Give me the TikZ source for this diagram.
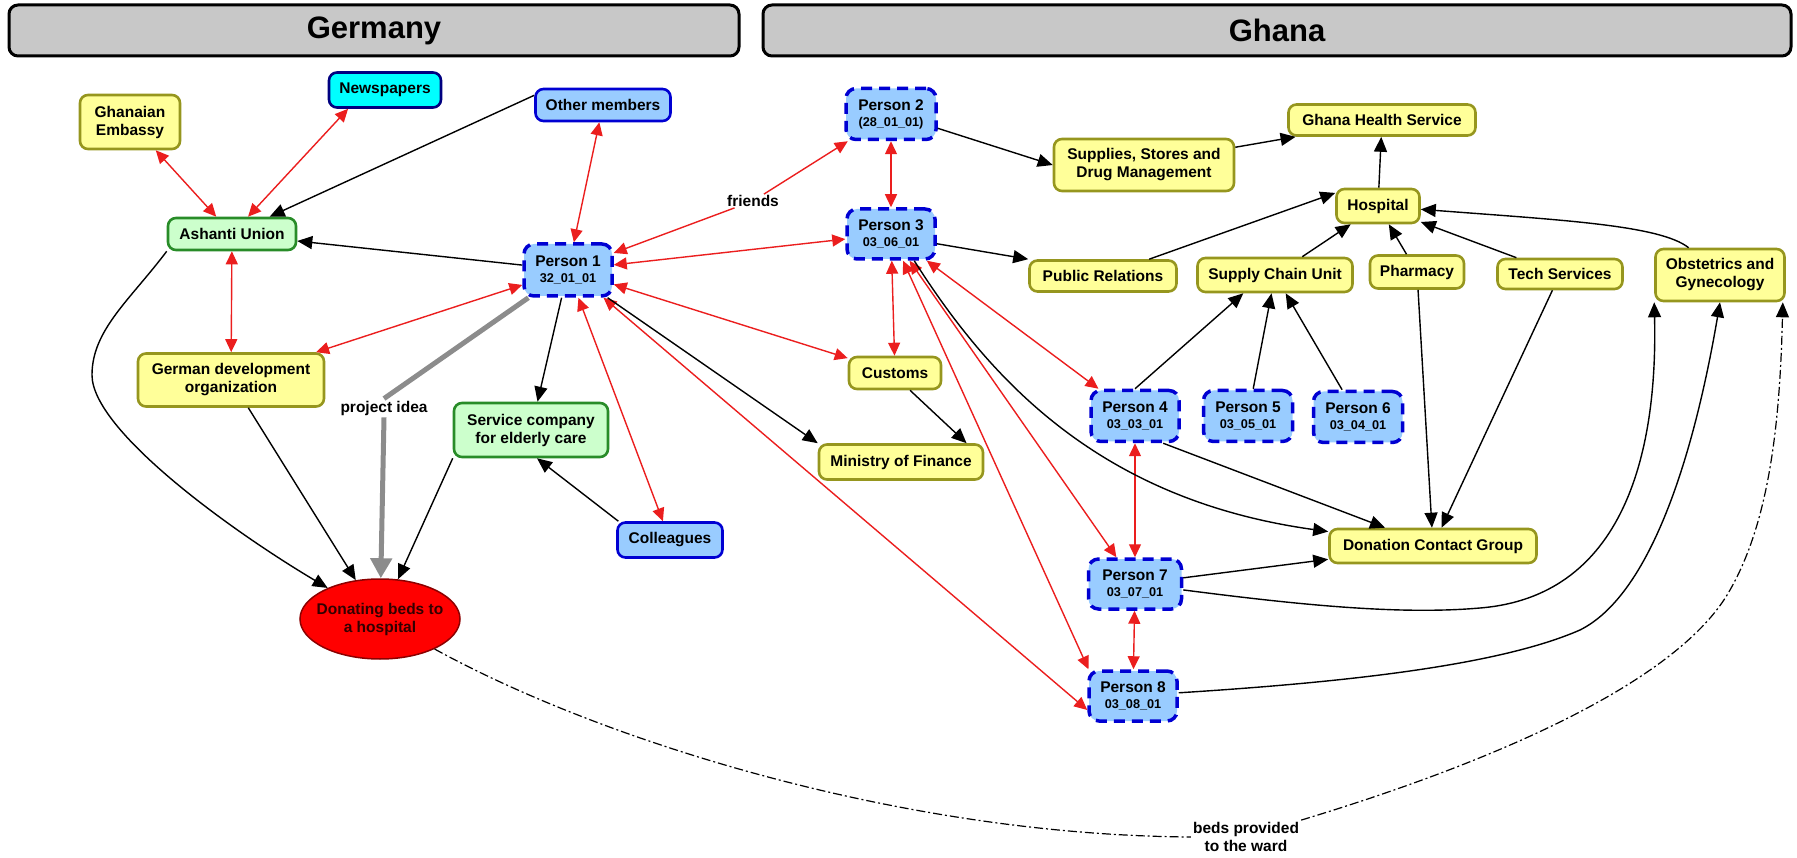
\documentclass[tikz,border=0pt]{standalone}
\usepackage{fontspec}
\setmainfont{Liberation Sans}
\usetikzlibrary{arrows.meta,shapes.geometric,calc}
\definecolor{yfill}{RGB}{255,255,153}
\definecolor{ydraw}{RGB}{150,150,30}
\definecolor{gfill}{RGB}{204,255,204}
\definecolor{gdraw}{RGB}{40,140,40}
\definecolor{bfill}{RGB}{153,204,255}
\definecolor{bdraw}{RGB}{0,0,210}
\definecolor{cfill}{RGB}{0,255,255}
\definecolor{cdraw}{RGB}{0,0,128}
\definecolor{hfill}{RGB}{200,200,200}
\definecolor{redline}{RGB}{235,30,30}
\definecolor{bedred}{RGB}{255,0,0}
\definecolor{beddraw}{RGB}{140,0,0}
\definecolor{bedtext}{RGB}{50,0,0}
\definecolor{grayarr}{RGB}{140,140,140}
\newcommand{\nodefnt}{\fontsize{15.5}{18}\selectfont\bfseries}
\newcommand{\idfnt}{\fontsize{12.7}{15}\selectfont\bfseries}
\tikzset{
  base/.style={rounded corners=8pt, line width=2.6pt, align=center, font=\nodefnt, inner sep=2pt},
  ybox/.style={base, draw=ydraw, fill=yfill},
  gbox/.style={base, draw=gdraw, fill=gfill},
  bbox/.style={base, draw=bdraw, fill=bfill},
  nbox/.style={base, draw=cdraw, fill=cfill},
  pbox/.style={base, draw=bdraw, fill=bfill, line width=3.5pt, dash pattern=on 11pt off 7pt, rounded corners=10pt},
  hdr/.style={draw=black, fill=hfill, line width=3pt, rounded corners=9pt, font=\fontsize{31}{36}\selectfont\bfseries},
  lbl/.style={font=\nodefnt, align=center, inner sep=2pt},
  redline/.style={draw=redline, line width=1.4pt},
  redarr/.style={redline, {Triangle[length=13pt,width=12pt]}-{Triangle[length=13pt,width=12pt]}},
  redstart/.style={redline, {Triangle[length=13pt,width=12pt]}-},
  redend/.style={redline, -{Triangle[length=13pt,width=12pt]}},
  blk/.style={draw=black, line width=1.4pt, -{Triangle[length=15pt,width=13pt]}},
  grayline/.style={draw=grayarr, line width=5pt, -{Triangle[length=20pt,width=21pt]}},
  dd/.style={draw=black, line width=1.2pt, dash pattern=on 9pt off 3pt on 2pt off 3pt, -{Triangle[length=15pt,width=13pt]}},
}
\begin{document}
\begin{tikzpicture}[x=1pt,y=-1pt]
\useasboundingbox (0,0) rectangle (1797,858);
% headers
\node[hdr, minimum width=730pt, minimum height=51pt] (hg) at (374,30.5) {Germany};
\node[hdr, minimum width=1028pt, minimum height=51pt] (hgh) at (1277,30.5) {Ghana};
% Germany side
\node[ybox, minimum width=100pt, minimum height=54pt] (emb) at (130,122) {Ghanaian\\Embassy};
\node[nbox, minimum width=112pt, minimum height=35pt] (news) at (385,90) {Newspapers};
\node[bbox, minimum width=135pt, minimum height=32pt] (other) at (603,105) {Other members};
\node[gbox, minimum width=128pt, minimum height=32pt] (ash) at (232,234) {Ashanti Union};
\node[pbox, minimum width=88pt, minimum height=52pt] (p1) at (568,270) {Person 1\\[-2pt]{\idfnt 32\_01\_01}};
\node[ybox, minimum width=186pt, minimum height=53pt] (gdo) at (231,380) {German development\\organization};
\node[gbox, minimum width=154pt, minimum height=54pt] (svc) at (531,430) {Service company\\for elderly care};
\node[bbox, minimum width=105pt, minimum height=35pt] (coll) at (670,540) {Colleagues};
\node[ellipse, draw=beddraw, fill=bedred, line width=1.5pt, text=bedtext, align=center, font=\nodefnt,
      minimum width=160pt, minimum height=80pt, inner xsep=-7pt, inner ysep=0pt] (bed) at (380,619) {Donating beds to\\a hospital};
% Ghana side
\node[pbox, minimum width=90pt, minimum height=51pt] (p2) at (891,114) {Person 2\\[-2pt]{\idfnt (28\_01\_01)}};
\node[pbox, minimum width=88pt, minimum height=50pt] (p3) at (891,234) {Person 3\\[-2pt]{\idfnt 03\_06\_01}};
\node[ybox, minimum width=180pt, minimum height=52pt] (sup) at (1144,165) {Supplies, Stores and\\Drug Management};
\node[ybox, minimum width=187pt, minimum height=31pt] (ghs) at (1382,120) {Ghana Health Service};
\node[ybox, minimum width=83pt, minimum height=34pt] (hosp) at (1378,206) {Hospital};
\node[ybox, minimum width=147pt, minimum height=31pt] (pr) at (1103,276) {Public Relations};
\node[ybox, minimum width=155pt, minimum height=34pt] (scu) at (1275,275) {Supply Chain Unit};
\node[ybox, minimum width=94pt, minimum height=33pt] (pharm) at (1417,272) {Pharmacy};
\node[ybox, minimum width=125pt, minimum height=30pt] (tech) at (1560,274) {Tech Services};
\node[ybox, minimum width=129pt, minimum height=52pt] (obs) at (1720,275) {Obstetrics and\\Gynecology};
\node[ybox, minimum width=92pt, minimum height=32pt] (cust) at (895,373) {Customs};
\node[ybox, minimum width=164pt, minimum height=35pt] (mof) at (901,462) {Ministry of Finance};
\node[pbox, minimum width=88pt, minimum height=51pt] (p4) at (1135,416) {Person 4\\[-2pt]{\idfnt 03\_03\_01}};
\node[pbox, minimum width=89pt, minimum height=51pt] (p5) at (1248,416) {Person 5\\[-2pt]{\idfnt 03\_05\_01}};
\node[pbox, minimum width=89pt, minimum height=51pt] (p6) at (1358,417) {Person 6\\[-2pt]{\idfnt 03\_04\_01}};
\node[pbox, minimum width=93pt, minimum height=50pt] (p7) at (1135,584) {Person 7\\[-2pt]{\idfnt 03\_07\_01}};
\node[pbox, minimum width=88pt, minimum height=50pt] (p8) at (1133,696) {Person 8\\[-2pt]{\idfnt 03\_08\_01}};
\node[ybox, minimum width=207pt, minimum height=34pt] (don) at (1433,546) {Donation Contact Group};
% labels
\node[lbl, inner sep=1pt] (friends) at (753,201) {friends};
\node[lbl] (pidea) at (384,408) {project idea};
\node[lbl] (bl) at (1246,837) {beds provided\\to the ward};
% red two-way connectors
\draw[redarr] (emb) -- (ash);
\draw[redarr] (news.207) -- (ash);
\draw[redarr] (other) -- (p1);
\draw[redarr] (ash) -- (gdo);
\draw[redarr] (p1) -- (gdo);
\draw[redarr] (p1) -- (coll);
\draw[redstart] (p1) -- (friends);
\draw[redend] (friends) -- (p2);
\draw[redarr] (p1) -- (p3);
\draw[redarr] (p1) -- (cust);
\draw[redarr] (p1.-38) -- (p8.197);
\draw[redarr] (p2) -- (p3);
\draw[redarr] (p3) -- (cust);
\draw[redarr] (p3) -- (p4);
\draw[redarr] (p3) -- (p7);
\draw[redarr] (p3) -- (p8.149);
\draw[redarr] (p4) -- (p7);
\draw[redarr] (p7) -- (p8);
% black connectors
\draw[blk] (other.172) -- (ash);
\draw[blk] (p1) -- (ash);
\draw[blk] (p1) -- (svc);
\draw[blk] (coll.160) -- (svc.-78);
\draw[blk] (gdo) -- (bed);
\draw[blk] (svc.south west) -- (bed);
\draw[blk] (ash.south west) .. controls (130,300) and (92,330) .. (92,375) .. controls (92,430) and (230,530) .. (bed);
\draw[blk] (p1.-35) -- (mof.north west);
\draw[blk] (cust.-49) -- (mof.16);
\draw[blk] (p2.-17) -- (sup.west);
\draw[blk] (sup.11) -- (ghs.191);
\draw[blk] (hosp) -- (ghs);
\draw[blk] (p3.-12) -- (pr.north west);
\draw[blk] (pr.20) -- (hosp.163);
\draw[blk] (scu) -- (hosp);
\draw[blk] (pharm) -- (hosp);
\draw[blk] (tech) -- (hosp);
\draw[blk] (obs.139) .. controls (1660,225) and (1560,220) .. (hosp);
\draw[blk] (p4.north) -- (scu.210);
\draw[blk] (p5) -- (scu);
\draw[blk] (p6) -- (scu);
\draw[blk] (pharm) -- (don);
\draw[blk] (tech) -- (don);
\draw[blk] (p4.-44) -- (don);
\draw[blk] (p7) -- (don);
\draw[blk] (p3.-49) .. controls (990,380) and (1100,500) .. (don);
\draw[blk] (p7.-7) .. controls (1300,605) and (1400,615) .. (1480,608) .. controls (1640,595) and (1657,420) .. (obs.south west);
\draw[blk] (p8.4) .. controls (1350,682) and (1500,665) .. (1580,630) .. controls (1660,590) and (1700,420) .. (obs.south);
% gray project idea
\draw[grayline] (p1.215) -- (pidea.north) (pidea.south) -- (bed);
% dash-dot beds provided
\draw[dd] (bed) .. controls (600,740) and (900,835) .. (bl.west)
          (bl.north east) .. controls (1500,760) and (1680,680) .. (1730,590)
          .. controls (1770,520) and (1780,420) .. ([xshift=-3pt]obs.south east);
\end{tikzpicture}
\end{document}
